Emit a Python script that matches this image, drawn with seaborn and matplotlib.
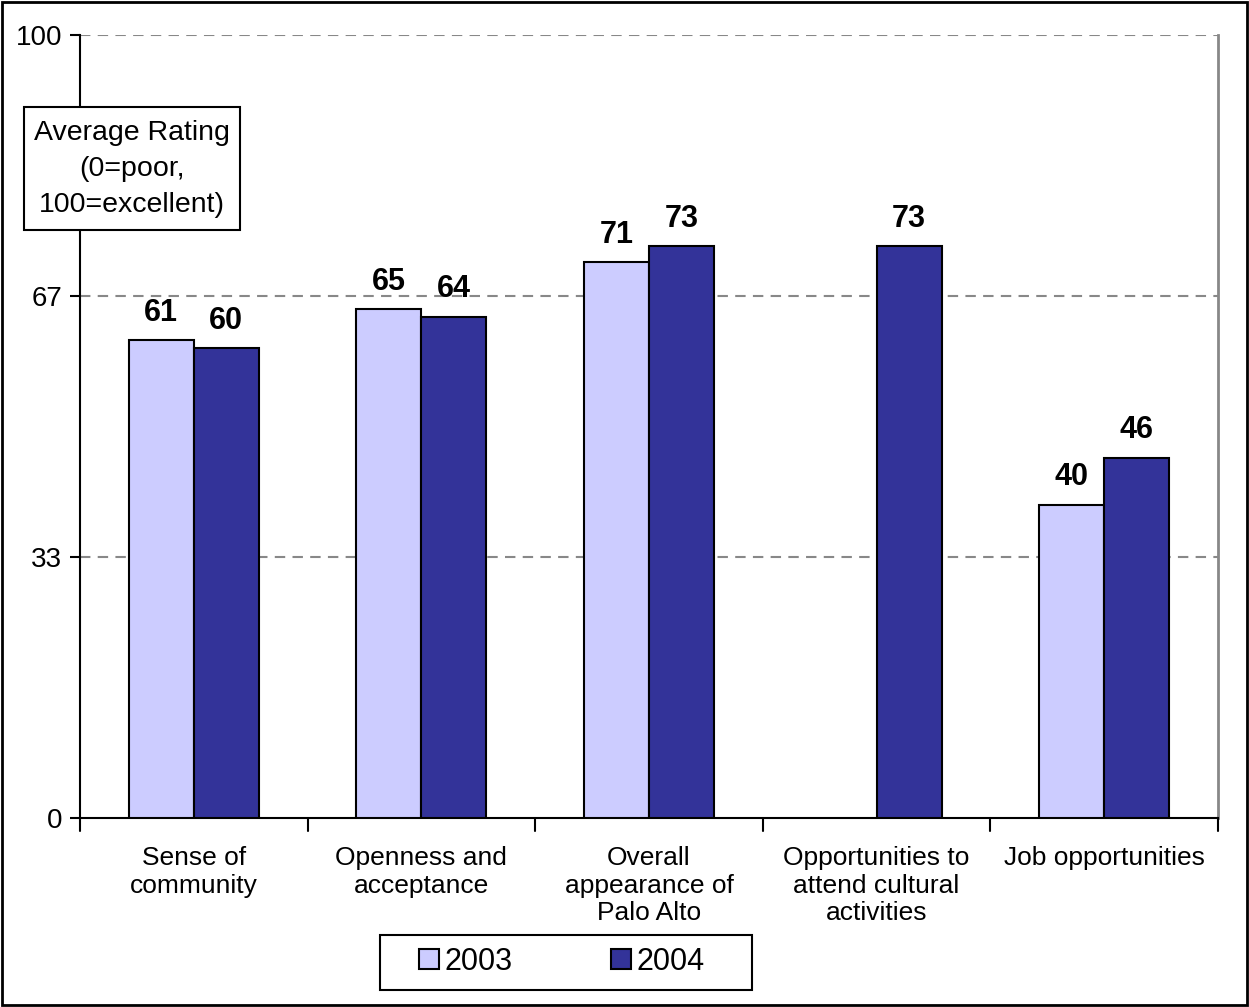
import numpy as np
import pandas as pd
import matplotlib
matplotlib.use("Agg")
import matplotlib.pyplot as plt
import matplotlib.patches as mpatches
import seaborn as sns

# values
categories = [
    "Sense of\ncommunity",
    "Openness and\nacceptance",
    "Overall\nappearance of\nPalo Alto",
    "Opportunities to\nattend cultural\nactivities",
    "Job opportunities",
]
years = ["2003", "2004"]
rating_2003 = [61, 65, 71, np.nan, 40]
rating_2004 = [60, 64, 73, 73, 46]
ytick_vals = [0, 100 / 3, 200 / 3, 100]
ytick_labels = ["0", "33", "67", "100"]

LIGHT = "#CCCCFF"
DARK = "#333399"

df = pd.DataFrame({
    "category": categories * 2,
    "year": [years[0]] * 5 + [years[1]] * 5,
    "rating": rating_2003 + rating_2004,
})

sns.set_theme(style="white")
plt.rcParams.update({
    "font.family": ["Liberation Sans", "DejaVu Sans"],
    "text.color": "black",
    "xtick.color": "black",
    "ytick.color": "black",
    "axes.labelcolor": "black",
})

fig = plt.figure(figsize=(12.49, 10.07), dpi=100)
ax = fig.add_axes([80 / 1249, 1 - 818 / 1007, (1218 - 80) / 1249, (818 - 35) / 1007])

sns.barplot(data=df, x="category", y="rating", hue="year", order=categories,
            hue_order=years, palette=[LIGHT, DARK], width=0.572,
            edgecolor="black", linewidth=1.5, saturation=1, errorbar=None,
            ax=ax, legend=False, zorder=3)

for c in ax.containers:
    labels = [f"{v:.0f}" if np.isfinite(v) else "" for v in c.datavalues]
    ax.bar_label(c, labels=labels, padding=9, fontsize=22, fontweight="bold")

ax.set_xlim(-0.5, 4.5)
ax.set_ylim(0, 100)
ax.set_xlabel("")
ax.set_ylabel("")

# gridlines
for yv in ytick_vals[1:]:
    ax.axhline(yv, color="#888888", linestyle=(0, (5, 3.5)), linewidth=1.5, zorder=1)

ax.set_yticks(ytick_vals)
ax.set_yticklabels(ytick_labels, fontsize=20)
ax.set_xticks(range(5))
ax.set_xticklabels(categories, fontsize=19, linespacing=1.2)
ax.tick_params(axis="x", length=0, pad=20)
ax.tick_params(axis="y", left=True, length=7, width=1.5, color="black", pad=6)

# tick marks between groups
for xb in np.arange(-0.5, 5.0, 1.0):
    ax.plot([xb, xb], [0, -1.6], color="black", linewidth=1.5, clip_on=False, zorder=4)

for s in ["left", "bottom"]:
    ax.spines[s].set_color("black")
    ax.spines[s].set_linewidth(1.5)
ax.spines["top"].set_visible(False)
ax.spines["right"].set_color("#888888")
ax.spines["right"].set_linewidth(2)

# y axis title in a box
fig.patches.append(mpatches.Rectangle((24 / 1249, 1 - 230 / 1007), 216 / 1249, 123 / 1007,
                                      transform=fig.transFigure, facecolor="white",
                                      edgecolor="black", linewidth=1.5, zorder=10))
fig.text(132 / 1249, 1 - 169 / 1007, "Average Rating\n(0=poor,\n100=excellent)",
         ha="center", va="center", fontsize=20.5, linespacing=1.5, zorder=11)

# legend: frameless entries inside a drawn box
fig.patches.append(mpatches.Rectangle((380 / 1249, 1 - 990 / 1007), 372 / 1249, 55 / 1007,
                                      transform=fig.transFigure, facecolor="white",
                                      edgecolor="black", linewidth=1.5, zorder=10))
handles = [mpatches.Patch(facecolor=LIGHT, edgecolor="black", linewidth=1.5, label="2003"),
           mpatches.Patch(facecolor=DARK, edgecolor="black", linewidth=1.5, label="2004")]
leg = fig.legend(handles=handles, loc="center", bbox_to_anchor=(562 / 1249, 1 - 962 / 1007),
                 ncol=2, fontsize=22, frameon=False, handlelength=0.65,
                 handleheight=0.65, handletextpad=0.2, columnspacing=3.2,
                 borderpad=0.2, borderaxespad=0)
leg.set_zorder(12)

# outer border
fig.patches.append(mpatches.Rectangle((0.002, 0.002), 0.996, 0.996, transform=fig.transFigure,
                                      fill=False, edgecolor="black", linewidth=2))

fig.savefig("out.png", dpi=100)
